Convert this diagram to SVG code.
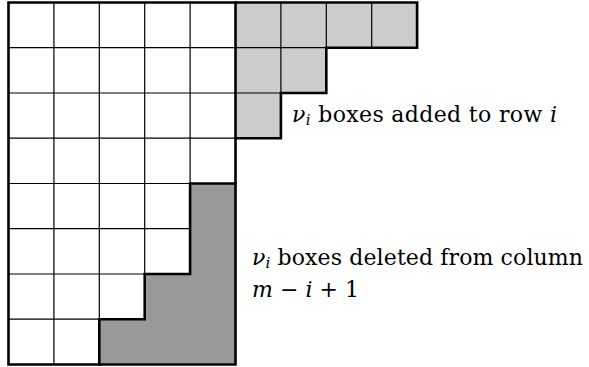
<svg xmlns="http://www.w3.org/2000/svg" width="589" height="367" viewBox="0 0 589 367">
<style>
.thin{stroke:#000;stroke-width:1.2;fill:none}
.thick{stroke:#000;stroke-width:2.6;fill:none;stroke-linejoin:miter;stroke-linecap:square}
.lab{font-family:"DejaVu Serif","Liberation Serif",serif;font-size:22px;fill:#000}
.it{font-style:italic}
.sub{font-style:italic;font-size:15px}
</style>
<rect width="589" height="367" fill="#fff"/>
<g id="added-boxes">
<polygon points="235.5,2.5 417.1,2.5 417.1,47.7 326.3,47.7 326.3,93 280.9,93 280.9,138.2 235.5,138.2" fill="#cccccc"/>
</g>
<g id="deleted-boxes">
<polygon points="190.1,183.5 235.5,183.5 235.5,364.5 99.3,364.5 99.3,319.2 144.7,319.2 144.7,274 190.1,274" fill="#999999"/>
</g>
<g id="grid">
<path class="thin" d="M53.9,2.5V364.5 M99.3,2.5V364.5 M144.7,2.5V319.2 M190.1,2.5V274 M280.9,2.5V93 M326.3,2.5V47.7 M371.7,2.5V47.7
M8.5,47.7H326.3 M8.5,93H280.9 M8.5,138.2H235.5 M8.5,183.5H235.5 M8.5,228.7H190.1 M8.5,274H190.1 M8.5,319.2H144.7"/>
</g>
<g id="outline">
<path class="thick" d="M8.5,2.5H417.1V47.7H326.3V93H280.9V138.2H235.5V364.5H8.5Z"/>
<path class="thick" d="M235.5,2.5V138.2"/>
<path class="thick" d="M235.5,183.5H190.1V274H144.7V319.2H99.3V364.5"/>
</g>
<g id="labels">
<text class="lab" x="292" y="121.5" textLength="265" lengthAdjust="spacing"><tspan class="it">ν</tspan><tspan class="sub" dy="3">i</tspan><tspan dy="-3"> boxes added to row </tspan><tspan class="it">i</tspan></text>
<text class="lab" x="252" y="264.5" textLength="331" lengthAdjust="spacing"><tspan class="it">ν</tspan><tspan class="sub" dy="3">i</tspan><tspan dy="-3"> boxes deleted from column</tspan></text>
<text class="lab" x="252" y="297" textLength="107" lengthAdjust="spacing"><tspan class="it">m</tspan> − <tspan class="it">i</tspan> + 1</text>
</g>
</svg>
